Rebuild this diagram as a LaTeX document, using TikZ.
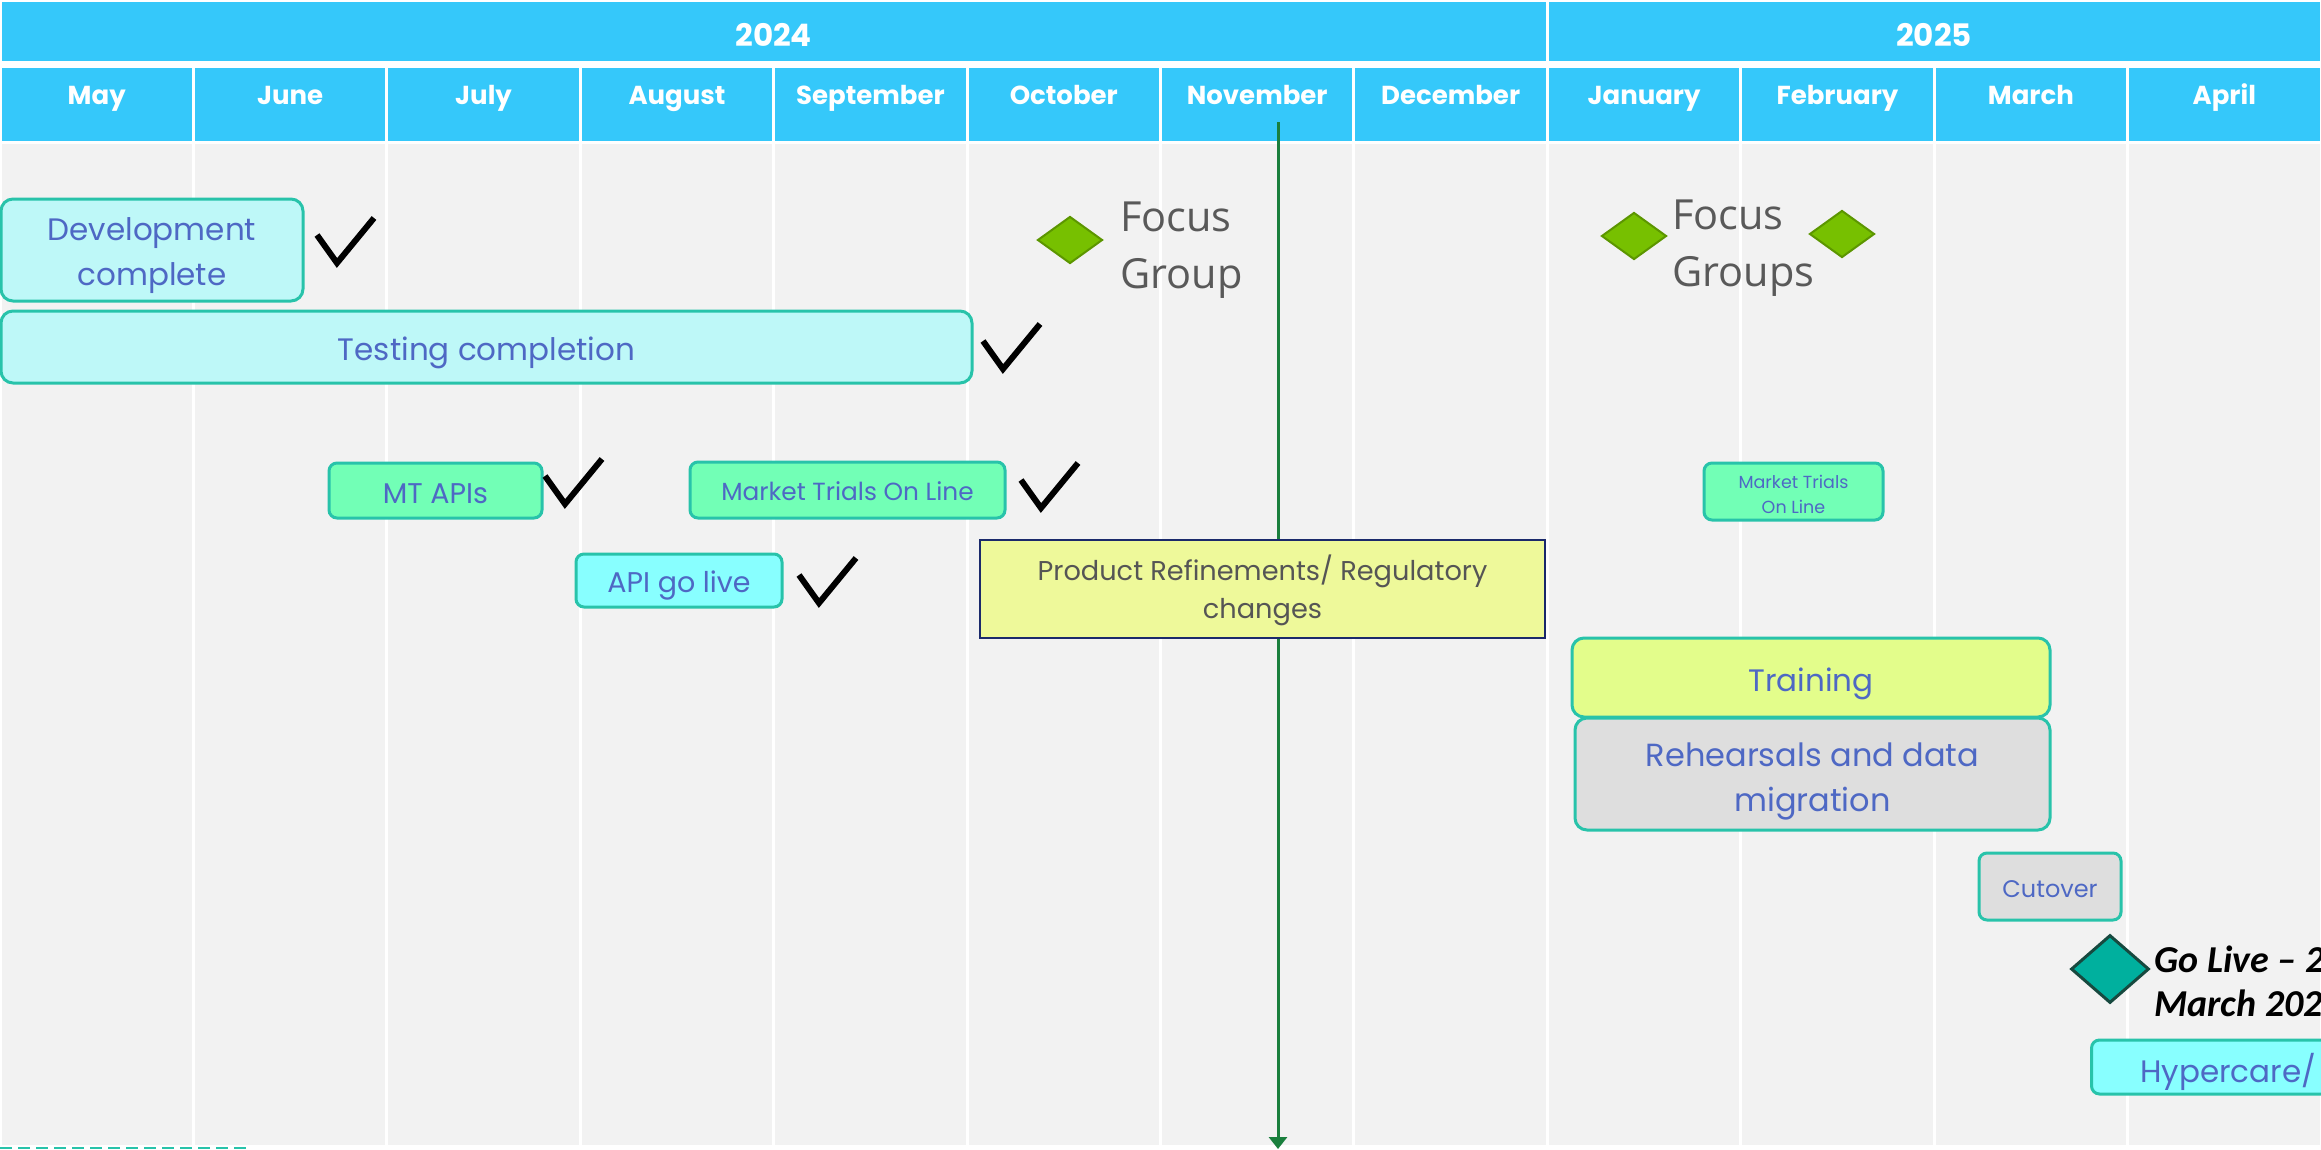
\documentclass[tikz,border=0pt]{standalone}
\usepackage{fontspec}
\setmainfont{Poppins}
\newfontfamily\osans{Open Sans}
\newfontfamily\carl{Carlito}
\usetikzlibrary{arrows.meta,shapes.geometric}

\definecolor{hdr}{RGB}{53,200,250}
\definecolor{gridbg}{RGB}{242,242,242}
\definecolor{tealb}{RGB}{40,195,170}
\definecolor{boxtxt}{RGB}{78,104,196}
\definecolor{cyanlt}{RGB}{190,248,248}
\definecolor{mint}{RGB}{114,255,182}
\definecolor{aqua}{RGB}{136,255,255}
\definecolor{lime}{RGB}{227,253,139}
\definecolor{greybox}{RGB}{222,222,222}
\definecolor{prodfill}{RGB}{238,249,154}
\definecolor{navy}{RGB}{27,42,107}
\definecolor{fgreen}{RGB}{119,192,0}
\definecolor{fgreenb}{RGB}{92,150,0}
\definecolor{golive}{RGB}{0,176,158}
\definecolor{goliveb}{RGB}{23,73,63}
\definecolor{arrowg}{RGB}{26,127,61}
\definecolor{focustxt}{RGB}{89,89,89}
\definecolor{prodtxt}{RGB}{85,85,85}

\newcommand\fsz[2]{\fontsize{#1}{#2}\selectfont}

\begin{document}
\begin{tikzpicture}[x=1pt,y=-1pt,
  hdrcell/.style={fill=hdr,draw=white,line width=3pt},
  gridcell/.style={fill=gridbg,draw=white,line width=3pt},
  yeartxt/.style={text=white,font=\bfseries\fsz{31}{36},inner sep=0pt},
  monthtxt/.style={text=white,font=\bfseries\fsz{26}{30},inner sep=0pt},
  bar/.style={draw=tealb,line width=3pt,rounded corners=12pt,inner sep=0pt},
  smallbar/.style={bar,rounded corners=8pt},
  bartext/.style={text=boxtxt,align=center,inner sep=0pt},
  prodbox/.style={fill=prodfill,draw=navy,line width=2.5pt,inner sep=0pt},
  fdiamond/.style={diamond,fill=fgreen,draw=fgreenb,line width=2pt,inner sep=0pt,minimum width=65pt,minimum height=47pt},
  focustext/.style={text=focustxt,font=\osans\fsz{41.5}{57},align=left,inner sep=0pt,anchor=west},
  tick/.pic={\draw[line width=6pt,black,line join=miter] (0,17) -- (20,45) -- (57,0);}
]
\useasboundingbox (0,0) rectangle (2321,1149);
\clip (0,0) rectangle (2321,1149);
\fill[white] (0,0) rectangle (2321,1149);

% year bar
\path[hdrcell] (0,0) rectangle (1547.3,62);
\path[hdrcell] (1547.3,0) rectangle (2321,62);
\node[yeartxt,anchor=base] (y2024) at (773.6,46) {2024};
\node[yeartxt,anchor=base] (y2025) at (1934,46) {2025};

% months and grid
\foreach \m [count=\i from 0] in {May,June,July,August,September,October,November,December,January,February,March,April}{
  \path[hdrcell] ({\i*193.4167},66) rectangle ({(\i+1)*193.4167},142);
  \path[gridcell] ({\i*193.4167},142) rectangle ({(\i+1)*193.4167},1146);
  \node[monthtxt,anchor=base] (m\i) at ({(\i+0.5)*193.4167},104) {\m};
}

% bottom remnant
\draw[tealb,line width=2pt,dash pattern=on 12pt off 6pt] (0,1148) -- (250,1148);

% today line
\coordinate (atop) at (1278,122);
\coordinate (abot) at (1278,1149);
\draw[arrowg,line width=3pt,-{Triangle[width=18pt,length=12pt]}] (atop) -- (abot);

% bars
\node[bar,fill=cyanlt,minimum width=302pt,minimum height=102pt] (dev) at (152,250) {};
\node[bartext,font=\fsz{31}{45}] (devt) at (152,256) {Development\\complete};
\node[bar,fill=cyanlt,minimum width=971pt,minimum height=72pt] (test) at (486.5,347) {};
\node[bartext,font=\fsz{31}{36}] (testt) at (486.5,353) {Testing completion};
\node[smallbar,fill=mint,minimum width=213pt,minimum height=55pt] (mtapi) at (435.5,490.5) {};
\node[bartext,font=\fsz{28.5}{32}] (mtapit) at (435.5,493.5) {MT APIs};
\node[smallbar,fill=mint,minimum width=315pt,minimum height=56pt] (mtol) at (847.5,490) {};
\node[bartext,font=\fsz{24.8}{28}] (mtolt) at (847.5,491.5) {Market Trials On Line};
\node[smallbar,fill=aqua,minimum width=206pt,minimum height=53pt] (api) at (679,580.5) {};
\node[bartext,font=\fsz{28.5}{32}] (apit) at (679,585) {API go live};
\node[prodbox,minimum width=565pt,minimum height=98pt] (prod) at (1262.5,589) {};
\node[bartext,text=prodtxt,font=\fsz{27.2}{38}] (prodt) at (1262.5,590) {Product Refinements/ Regulatory\\changes};
\node[smallbar,fill=mint,minimum width=179pt,minimum height=57pt] (mtol2) at (1793.5,491.5) {};
\node[bartext,font=\fsz{17.5}{25}] (mtol2t) at (1793.5,494.5) {Market Trials\\On Line};
\node[bar,fill=lime,minimum width=478pt,minimum height=79pt] (train) at (1811,677.5) {};
\node[bartext,font=\fsz{31}{36}] (traint) at (1811,683.5) {Training};
\node[bar,fill=greybox,minimum width=475pt,minimum height=112pt] (reh) at (1812.5,774) {};
\node[bartext,font=\fsz{32}{45}] (reht) at (1812.5,781) {Rehearsals and data\\migration};
\node[smallbar,fill=greybox,minimum width=142pt,minimum height=67pt] (cut) at (2050,886.5) {};
\node[bartext,font=\fsz{24}{28}] (cutt) at (2050,889.5) {Cutover};
\node[smallbar,fill=aqua,minimum width=300pt,minimum height=54pt,anchor=west] (hyper) at (2090,1067) {};
\node[bartext,font=\fsz{31}{36},anchor=west] (hypert) at (2140,1071.5) {Hypercare/};

% ticks
\pic at (317,218) {tick};
\pic at (983,324) {tick};
\pic at (545,459) {tick};
\pic at (1021,463) {tick};
\pic at (799,558) {tick};

% focus groups
\node[fdiamond] (fd1) at (1070,240) {};
\node[focustext] (ft1) at (1120,250) {Focus\\Group};
\node[fdiamond] (fd2) at (1634,236) {};
\node[fdiamond] (fd3) at (1842,234) {};
\node[focustext] (ft2) at (1672,248) {Focus\\Groups};

% go live
\node[diamond,fill=golive,draw=goliveb,line width=3pt,inner sep=0pt,minimum width=78pt,minimum height=68pt] (gl) at (2110,969) {};
\node[text=black,font=\carl\bfseries\itshape\fsz{38}{44},align=left,inner sep=0pt,anchor=west] (gltxt) at (2154,981) {Go Live – 2\\March 202};
\end{tikzpicture}
\end{document}
